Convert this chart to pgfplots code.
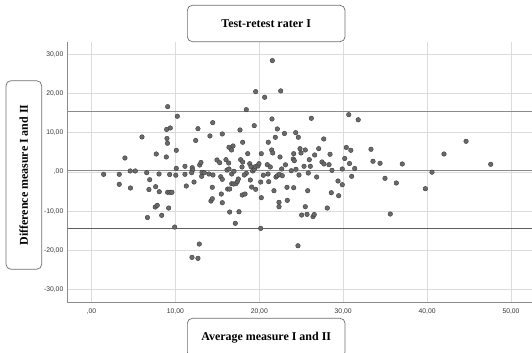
\documentclass[border=0pt]{standalone}
\usepackage{fontspec}
\setmainfont{Liberation Serif}
\newfontfamily\arialfont{Liberation Sans}
\usepackage{pgfplots}
\pgfplotsset{compat=1.18}
\definecolor{axisgray}{HTML}{8C8C8C}
\definecolor{gridgray}{HTML}{DCDCDC}
\definecolor{refgray}{HTML}{8A8A8A}
\definecolor{refdark}{HTML}{5E5E5E}
\definecolor{ptfill}{HTML}{6A6A6A}
\definecolor{ptedge}{HTML}{3C3C3C}
\definecolor{boxgray}{HTML}{6E6E6E}
\definecolor{ticktext}{HTML}{333333}
\pgfplotstableread{
x y
1.45 -0.59
3.31 -0.59
3.31 -3.15
3.99 3.58
4.62 0.26
5.22 0.26
4.65 -4.09
6.02 8.95
6.58 -0.18
6.94 -1.97
6.85 -4.48
6.67 -11.64
7.72 4.60
7.65 -3.76
8.05 -0.51
8.08 -5.04
7.60 -8.95
7.84 -8.52
8.37 -11.07
8.92 3.84
8.96 10.87
9.39 11.25
9.08 16.70
9.00 8.57
9.06 7.34
9.32 -0.64
9.08 -5.19
9.36 -5.19
9.59 -5.19
9.20 -9.21
9.92 -14.07
10.11 5.55
10.23 14.25
10.11 0.95
10.05 -0.82
11.14 1.46
11.14 -0.59
11.30 -3.58
12.01 1.10
12.04 0.51
11.94 -0.18
12.22 -2.56
12.42 8.06
12.69 11.07
12.90 1.79
13.05 2.43
13.13 -1.10
13.17 -0.08
13.44 -0.18
12.85 -18.41
11.98 -21.82
12.69 -22.07
14.00 -0.51
14.48 -0.77
14.12 9.21
14.45 12.61
14.96 3.07
15.28 2.38
15.40 -1.20
15.59 -1.87
15.59 9.72
14.40 -3.91
15.47 -5.63
14.24 -7.42
14.40 -6.83
15.59 -7.85
16.03 3.15
16.35 2.30
16.15 0.51
16.39 0.77
16.39 6.32
16.87 6.65
16.69 5.63
16.71 -0.51
16.98 0.18
16.23 -4.35
16.47 -4.35
16.71 -2.99
16.95 -3.07
17.22 -2.99
17.38 -2.48
17.50 -1.79
16.47 -10.23
17.58 -10.15
17.14 -13.12
17.70 10.74
17.78 3.15
18.02 2.56
17.94 1.28
18.02 7.60
18.45 -0.33
18.21 -0.77
17.97 -5.88
18.30 -5.63
18.45 15.93
18.62 4.68
18.86 2.12
19.01 1.36
18.93 -2.05
19.09 -3.84
19.57 -4.42
19.21 0.26
19.40 0.69
19.52 1.36
19.84 1.53
19.96 2.12
19.40 11.84
19.57 20.54
20.24 4.68
20.17 -2.56
20.48 -0.84
20.24 -6.57
20.17 -14.40
20.64 19.10
20.95 1.87
21.31 1.28
21.04 -0.51
21.12 -2.48
21.07 7.60
21.48 5.63
21.60 4.86
21.75 -4.78
21.55 28.47
21.51 13.55
21.91 8.87
22.15 11.00
22.55 20.72
21.99 -1.28
22.15 -0.95
22.38 -0.59
22.74 -0.95
22.47 3.84
22.35 -7.75
22.35 -8.87
23.00 9.85
23.12 1.84
22.67 0.77
24.34 10.05
24.65 8.87
24.10 4.68
24.05 3.32
24.17 2.89
23.81 0.33
24.37 0.69
24.73 -0.77
23.30 -3.91
24.10 -4.02
23.34 -7.24
24.61 -18.85
24.85 5.96
25.48 5.63
24.97 4.86
25.33 1.46
25.96 3.15
26.08 1.46
25.84 -0.26
25.77 -4.78
25.48 -8.87
25.05 -11.00
25.69 -10.82
26.40 -11.40
26.55 -10.87
26.20 13.73
26.60 4.35
26.84 -1.28
27.08 5.96
27.47 2.56
27.71 2.05
27.68 8.44
28.31 1.87
28.43 4.53
28.66 0.43
28.58 -5.29
28.10 -9.21
29.38 -2.30
29.89 -3.25
29.46 -6.06
29.89 0.77
30.18 3.45
30.37 6.27
30.91 5.55
30.75 2.17
31.37 0.90
31.01 -1.10
30.66 14.65
31.79 13.35
33.31 5.81
33.55 2.74
34.39 2.23
34.98 -1.61
35.61 -10.74
36.33 -2.81
37.04 2.05
39.79 -4.27
40.58 -0.05
42.01 4.60
44.64 7.85
47.58 1.97
}\pts
\begin{document}
\begin{tikzpicture}[x=1bp,y=1bp]
\useasboundingbox (0,0) rectangle (532,352);
\begin{axis}[
  at={(67.3bp,49.7bp)}, anchor=south west,
  scale only axis, width=464.7bp, height=260.6bp,
  xmin=-2.88, xmax=52.5, ymin=-33.3, ymax=33.3,
  axis x line=bottom, axis y line=left,
  axis line style={-, draw=axisgray, line width=0.9bp},
  xtick={0,10,20,30,40,50},
  xticklabels={{,00},{10,00},{20,00},{30,00},{40,00},{50,00}},
  ytick={-30,-20,-10,0,10,20,30},
  yticklabels={{-30,00},{-20,00},{-10,00},{,00},{10,00},{20,00},{30,00}},
  major tick length=0pt,
  grid=major,
  major grid style={draw=gridgray, line width=0.9bp},
  tick label style={font=\arialfont\fontsize{6.8}{8}\selectfont, text=ticktext},
  xticklabel style={yshift=-2.5bp},
  yticklabel style={xshift=-0.5bp},
  clip=true,
]
\addplot[draw=refgray, line width=1.4bp] coordinates {(-2.88,15.4) (52.5,15.4)};
\addplot[draw=refgray, line width=1.4bp] coordinates {(-2.88,0.45) (52.5,0.45)};
\addplot[draw=refdark, line width=1.0bp] coordinates {(-2.88,-14.5) (52.5,-14.5)};
\addplot[only marks, mark=*, mark size=2.3bp,
  mark options={fill=ptfill, draw=ptedge, line width=0.4bp}] table[x=x,y=y] {\pts};
\end{axis}
\node[draw=boxgray, line width=0.7bp, rounded corners=5bp, minimum width=157.7bp, minimum height=36.4bp, inner sep=0pt]
  at (266.2,328.5) {\fontsize{12}{14}\selectfont\bfseries Test-retest rater I};
\node[draw=boxgray, line width=0.7bp, rounded corners=5bp, minimum width=157.7bp, minimum height=38.7bp, inner sep=0pt]
  at (266.2,14.35) {\fontsize{12}{14}\selectfont\bfseries Average measure I and II};
\node[draw=boxgray, line width=0.7bp, rounded corners=5bp, minimum width=188.6bp, minimum height=35.7bp, inner sep=0pt, rotate=90]
  at (23.85,177) {\fontsize{12}{14}\selectfont\bfseries Difference measure I and II};
\end{tikzpicture}
\end{document}
